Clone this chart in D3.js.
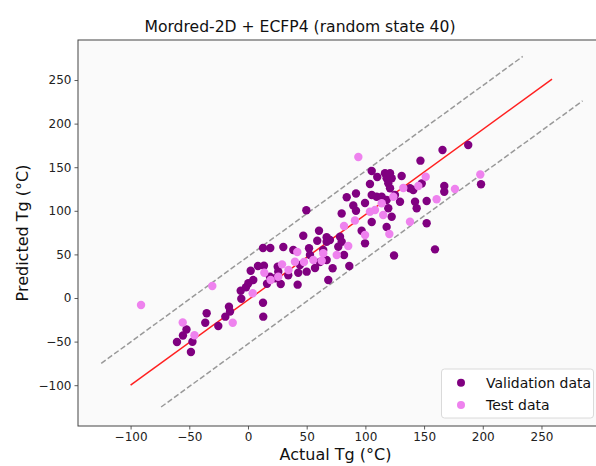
<!DOCTYPE html>
<html><head><meta charset="utf-8">
<script src="https://cdn.jsdelivr.net/npm/d3@7"></script>
<style>body{margin:0;background:#fff}svg{display:block;font-family:"DejaVu Sans",sans-serif}</style>
</head><body><svg id="c" width="596" height="466"></svg>
<script>
const title = "Mordred-2D + ECFP4 (random state 40)";
const xLabel = "Actual Tg (°C)";
const yLabel = "Predicted Tg (°C)";
const xTicks = [-100,-50,0,50,100,150,200,250];
const yTicks = [-100,-50,0,50,100,150,200,250];
const seriesNames = ["Validation data","Test data"];
const seriesColors = ["#800080","#ee82ee"];
// validation [actual, predicted]
const validation = [
[-60.5,-50.5],[-55.4,-43.0],[-52.4,-36.1],[-47.3,-50.1],[-48.6,-61.9],[-35.2,-17.5],[-36.4,-28.3],
[-25.3,-32.1],[-16.2,-10.0],[-15.3,-15.5],[-19.3,-21.4],[-5.7,-0.8],[-6.2,8.4],[-1.7,12.3],[0.3,16.9],
[2.3,31.3],[4.5,20.6],[12.8,-5.4],[13.0,-21.4],[8.5,36.7],[13.6,37.0],[12.8,57.3],[19.0,57.3],
[16.2,16.4],[27.9,16.1],[23.3,22.6],[30.1,58.5],[42.3,15.3],[25.3,35.9],[34.3,26.0],[38.6,55.0],
[47.1,71.4],[60.5,77.2],[49.7,100.6],[67.0,69.6],[72.1,34.1],[68.4,20.6],[52.0,57.0],[59.0,65.7],
[52.8,49.3],[67.0,43.6],[50.0,30.2],[42.8,29.0],[25.8,30.2],[18.7,24.4],[57.1,34.4],[61.3,41.3],
[44.3,37.8],[105.4,145.6],[110.1,138.8],[103.9,130.7],[116.7,143.0],[121.0,143.0],[118.1,137.3],
[122.4,137.3],[119.5,131.5],[121.0,125.8],[130.9,139.9],[146.9,157.5],[84.1,115.5],[92.0,119.8],
[89.7,106.1],[92.0,100.1],[99.7,108.9],[105.4,118.1],[113.9,116.2],[118.1,112.4],[119.5,102.9],
[125.2,118.1],[129.5,110.4],[138.0,125.8],[142.3,110.4],[143.7,102.9],[79.8,96.9],[105.4,87.2],
[96.8,77.2],[99.7,62.7],[118.1,81.4],[124.4,48.7],[78.4,70.3],[79.8,64.6],[76.9,58.8],[69.8,66.5],
[81.8,49.3],[64.1,55.0],[67.0,64.6],[86.3,36.7],[187.6,175.5],[165.7,169.7],[148.0,131.3],
[152.2,111.2],[167.2,128.4],[167.2,121.9],[198.5,130.4],[152.2,85.7],[159.3,55.8],[140.8,123.9],
[109.6,116.2],[122.4,93.2]
];
// test [actual, predicted]
const test = [
[-91.1,-8.0],[-30.4,13.8],[-55.6,-28.1],[-45.6,-42.8],[-13.0,-28.3],[4.0,5.4],[13.9,29.0],[19.3,20.6],
[29.0,38.6],[34.5,32.1],[42.0,52.8],[64.1,51.3],[55.6,43.6],[25.8,24.4],[40.0,41.6],[94.0,161.7],
[113.9,108.6],[132.3,126.1],[91.1,88.9],[103.9,99.0],[99.7,72.2],[115.2,95.2],[120.4,73.4],[138.0,87.5],
[81.8,82.6],[85.4,59.6],[75.6,49.3],[62.8,42.8],[151.4,139.1],[145.1,128.4],[160.7,113.2],[176.3,125.0],
[197.9,141.6],[108.2,100.9],[47.7,41.3],[123.8,116.2]
];
// reference lines [x0,y0,x1,y1]
const idealLine = [-100,-100,259,251];
const upperBand = [-125,-75,234,277];
const lowerBand = [-74,-125,285,226];

const svg = d3.select("#c");
const L=78, T=40, R=597, B=426;
const x = d3.scaleLinear().domain([-144.8, 297.3]).range([L,R]);
const y = d3.scaleLinear().domain([-146.8, 295.9]).range([B,T]);

svg.append("rect").attr("x",L).attr("y",T).attr("width",R-L).attr("height",B-T).attr("fill","#fafafa");

const lineG = svg.append("g");
function seg(d, color, dash){
  lineG.append("line").attr("x1",x(d[0])).attr("y1",y(d[1])).attr("x2",x(d[2])).attr("y2",y(d[3]))
    .attr("stroke",color).attr("stroke-width",1.5).attr("stroke-dasharray",dash||null);
}
seg(upperBand,"#999","5.5,2.5");
seg(lowerBand,"#999","5.5,2.5");
seg(idealLine,"#ff2020");

svg.append("g").selectAll("circle").data(validation).join("circle")
  .attr("cx",d=>x(d[0])).attr("cy",d=>y(d[1])).attr("r",4.2).attr("fill",seriesColors[0]);
svg.append("g").selectAll("circle").data(test).join("circle")
  .attr("cx",d=>x(d[0])).attr("cy",d=>y(d[1])).attr("r",4.2).attr("fill",seriesColors[1]);

// axes
const fmt = d=>d3.format("d")(d).replace("-","\u2212");
const xa = svg.append("g").attr("transform",`translate(0,${B})`)
  .call(d3.axisBottom(x).tickValues(xTicks).tickSize(3.5).tickPadding(3).tickFormat(fmt));
const ya = svg.append("g").attr("transform",`translate(${L},0)`)
  .call(d3.axisLeft(y).tickValues(yTicks).tickSize(3.5).tickPadding(3).tickFormat(fmt));
[xa,ya].forEach(g=>{
  g.select(".domain").remove();
  g.selectAll(".tick line").attr("stroke","#333").attr("stroke-width",0.8);
  g.selectAll(".tick text").attr("fill","#222").style("font-size","12px").style("font-family","DejaVu Sans");
});
// spines
svg.append("rect").attr("x",L).attr("y",T).attr("width",R-L).attr("height",B-T)
  .attr("fill","none").attr("stroke","#444").attr("stroke-width",1);

svg.append("text").attr("x",300).attr("y",32).attr("text-anchor","middle")
  .style("font-size","15.6px").attr("fill","#111").text(title);
svg.append("text").attr("x",(L+R)/2 - 2).attr("y",460).attr("text-anchor","middle")
  .style("font-size","16px").attr("fill","#111").text(xLabel);
svg.append("text").attr("transform",`translate(28,${(T+B)/2}) rotate(-90)`).attr("text-anchor","middle")
  .style("font-size","16px").attr("fill","#111").text(yLabel);

// legend
const lg = svg.append("g");
lg.append("rect").attr("x",441.5).attr("y",369).attr("width",152).attr("height",49).attr("rx",3)
  .attr("fill","#fff").attr("fill-opacity",0.85).attr("stroke","#d0d0d0").attr("stroke-width",0.8);
seriesNames.forEach((n,i)=>{
  const yy = 382.7 + i*22.3;
  lg.append("circle").attr("cx",461).attr("cy",yy).attr("r",4).attr("fill",seriesColors[i]);
  lg.append("text").attr("x",486).attr("y",yy+5).style("font-size","14px").attr("fill","#111").text(n);
});
</script></body></html>
